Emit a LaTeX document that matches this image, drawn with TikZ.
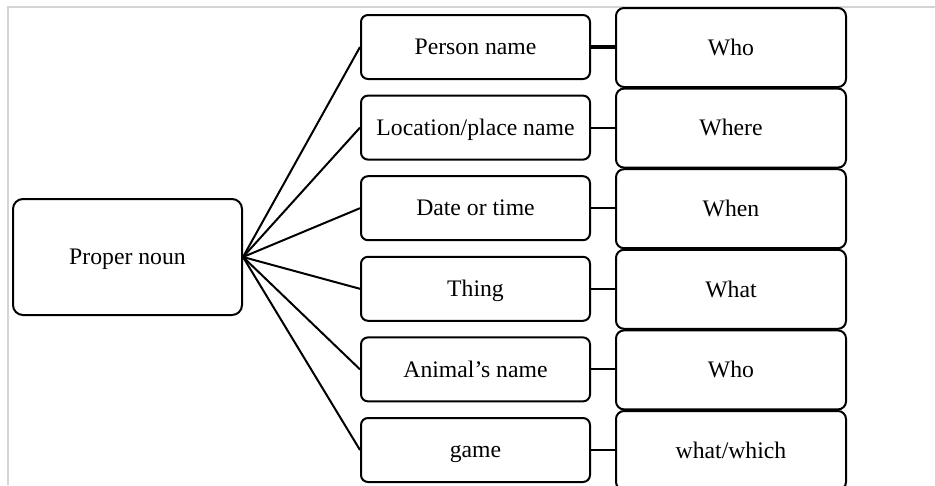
\documentclass[tikz,border=0pt]{standalone}
\usepackage{fontspec}
\setmainfont{Liberation Serif}
\begin{document}
\begin{tikzpicture}[x=1pt,y=-1pt,
  box/.style={draw=black, line width=2pt, rectangle, inner sep=0pt,
    font=\fontsize{23.7}{28}\selectfont, text height=15.5pt, text depth=0pt},
  rootbox/.style={box, rounded corners=10pt, minimum width=229pt, minimum height=116pt},
  midbox/.style={box, rounded corners=7pt, minimum width=229pt, minimum height=64pt},
  qbox/.style={box, rounded corners=8pt, minimum width=230pt, minimum height=79pt},
  link/.style={draw=black, line width=2pt},
  frame/.style={draw={rgb,255:red,212;green,212;blue,212}, line width=1.6pt}]
  \useasboundingbox (0,0) rectangle (935,485);
  \clip (0,0) rectangle (935,485);
  \fill[white] (0,0) rectangle (935,485);
  % page frame lines
  \draw[frame] (8,485) -- (8,7) -- (935,7);

  % root
  \node[rootbox] (pn) at (127.5,257) {Proper noun};

  % categories
  \node[midbox] (m1) at (475.5,47)    {Person name};
  \node[midbox] (m2) at (475.5,127.6) {Location/place name};
  \node[midbox] (m3) at (475.5,208.2) {Date or time};
  \node[midbox] (m4) at (475.5,288.8) {Thing};
  \node[midbox] (m5) at (475.5,369.4) {Animal’s name};
  \node[midbox] (m6) at (475.5,450)   {game};

  % question words
  \node[qbox] (q1) at (731,47.5)  {Who};
  \node[qbox] (q2) at (731,128.1) {Where};
  \node[qbox] (q3) at (731,208.7) {When};
  \node[qbox] (q4) at (731,289.3) {What};
  \node[qbox] (q5) at (731,369.9) {Who};
  \node[qbox] (q6) at (731,450.5) {what/which};

  % fan from the root
  \foreach \i in {1,...,6} \draw[link] (pn.east) -- (m\i.west);

  % category to question word
  \draw[draw=black, line width=4.5pt] (m1.east) -- (m1.east -| q1.west);
  \foreach \i in {2,...,6} \draw[link] (m\i.east) -- (m\i.east -| q\i.west);
\end{tikzpicture}
\end{document}
